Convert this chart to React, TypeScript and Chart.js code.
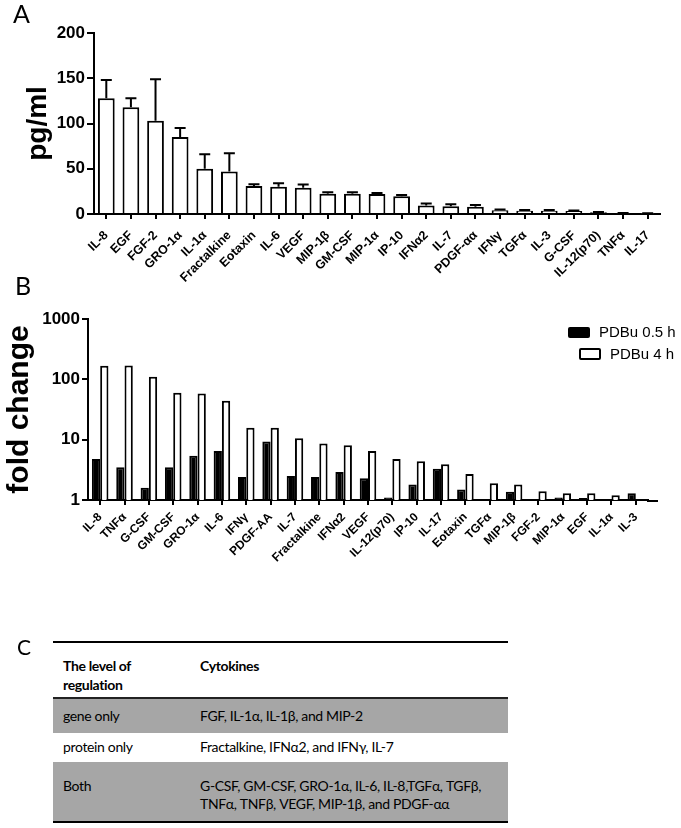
import React, { useEffect, useRef } from "react";
import { Chart, registerables } from "chart.js";
Chart.register(...registerables);

// ---------- Panel A data ----------
const catsA = ["IL-8", "EGF", "FGF-2", "GRO-1α", "IL-1α", "Fractalkine", "Eotaxin", "IL-6", "VEGF", "MIP-1β", "GM-CSF", "MIP-1α", "IP-10", "IFNα2", "IL-7", "PDGF-αα", "IFNγ", "TGFα", "IL-3", "G-CSF", "IL-12(p70)", "TNFα", "IL-17"];
const valuesA = [128, 118, 103, 85, 50, 47, 31, 30, 29, 22.5, 22.5, 22, 19.5, 9.5, 8.5, 8, 4.2, 3.7, 3.7, 3.2, 1.8, 0.8, 0.6];
const errA = [20, 10, 46, 10, 16, 20, 2, 4, 3.5, 1.5, 1.5, 1.2, 1.5, 2.2, 2.2, 2, 0.8, 0.6, 0.6, 0.8, 0.5, 0.3, 0.2];
const ticksA = [0, 50, 100, 150, 200];

// ---------- Panel B data ----------
const catsB = ["IL-8", "TNFα", "G-CSF", "GM-CSF", "GRO-1α", "IL-6", "IFNγ", "PDGF-AA", "IL-7", "Fractalkine", "IFNα2", "VEGF", "IL-12(p70)", "IP-10", "IL-17", "Eotaxin", "TGFα", "MIP-1β", "FGF-2", "MIP-1α", "EGF", "IL-1α", "IL-3"];
const pdbu05 = [4.8, 3.5, 1.6, 3.5, 5.4, 6.5, 2.4, 9.3, 2.5, 2.4, 2.9, 2.3, 1.1, 1.8, 3.3, 1.5, null, 1.37, null, 1.1, 1.08, null, 1.29];
const pdbu4 = [168, 170, 110, 60, 58, 44, 15.7, 15.7, 10.6, 8.6, 8.1, 6.5, 4.8, 4.4, 3.9, 2.7, 1.9, 1.8, 1.4, 1.29, 1.29, 1.2, null];
const ticksB = [1, 10, 100, 1000];
const seriesNamesB = ["PDBu 0.5 h", "PDBu 4 h"];

// ---------- Panel C data ----------
const tableHeader = ["The level of\nregulation", "Cytokines"];
const tableLevels = ["gene only", "protein only", "Both"];
const tableCytokines = [
  "FGF, IL-1α, IL-1β, and MIP-2",
  "Fractalkine, IFNα2, and IFNγ, IL-7",
  "G-CSF, GM-CSF, GRO-1α, IL-6, IL-8,TGFα, TGFβ,\nTNFα, TNFβ, VEGF, MIP-1β, and PDGF-αα",
];

const FONT = "'Liberation Sans', Arial, sans-serif";
const TFONT = "Lato, 'Noto Sans', sans-serif";

const errorBarPlugin = {
  id: "errorBars",
  afterDatasetsDraw(chart: any) {
    const meta = chart.getDatasetMeta(0);
    const ys = chart.scales.y;
    const ctx = chart.ctx;
    ctx.save();
    ctx.strokeStyle = "#000";
    ctx.lineWidth = 2;
    meta.data.forEach((bar: any, i: number) => {
      const y0 = ys.getPixelForValue(valuesA[i]);
      const y1 = ys.getPixelForValue(valuesA[i] + errA[i]);
      ctx.beginPath();
      ctx.moveTo(bar.x, y0);
      ctx.lineTo(bar.x, y1);
      ctx.moveTo(bar.x - 5.5, y1);
      ctx.lineTo(bar.x + 5.5, y1);
      ctx.stroke();
    });
    ctx.restore();
  },
};

const axisExtendPlugin = {
  id: "axisExtend",
  afterDraw(chart: any) {
    const { ctx, chartArea } = chart;
    ctx.save();
    ctx.strokeStyle = "#000";
    ctx.lineWidth = 2;
    ctx.beginPath();
    ctx.moveTo(chartArea.right - 1, chartArea.bottom + 1);
    ctx.lineTo(chartArea.right + 10, chartArea.bottom + 1);
    ctx.stroke();
    ctx.restore();
  },
};

function ChartA() {
  const ref = useRef<HTMLCanvasElement>(null);
  useEffect(() => {
    const chart = new Chart(ref.current as HTMLCanvasElement, {
      type: "bar",
      data: {
        labels: catsA,
        datasets: [
          {
            data: valuesA,
            backgroundColor: "#fff",
            borderColor: "#000",
            borderWidth: 2,
            barPercentage: 0.68,
            categoryPercentage: 1,
          },
        ],
      },
      options: {
        animation: false,
        responsive: false,
        devicePixelRatio: 1,
        layout: { padding: { top: 33, right: 21, bottom: 0, left: 0 } },
        plugins: { legend: { display: false }, tooltip: { enabled: false } },
        scales: {
          x: {
            grid: { display: true, drawOnChartArea: false, drawTicks: true, tickLength: 5, offset: false, color: "#000", lineWidth: 2 },
            border: { display: true, color: "#000", width: 2 },
            ticks: { autoSkip: false, maxRotation: 45, minRotation: 45, padding: 9, color: "#000", font: { family: FONT, weight: "bold", size: 12.5 } },
            afterFit(s: any) { s.height = 71; },
          },
          y: {
            min: 0,
            max: 200,
            afterBuildTicks(s: any) { s.ticks = ticksA.map((v) => ({ value: v })); },
            ticks: { padding: 2, color: "#000", font: { family: FONT, weight: "bold", size: 17 }, callback: (v: any) => String(v) },
            grid: { drawOnChartArea: false, drawTicks: true, tickLength: 7, color: "#000", lineWidth: 2 },
            border: { display: true, color: "#000", width: 2 },
            title: { display: true, text: "pg/ml", color: "#000", font: { family: FONT, weight: "bold", size: 28 }, padding: { top: 21, bottom: 0 } },
            afterFit(s: any) { s.width = 94; },
          },
        },
      },
      plugins: [errorBarPlugin],
    } as any);
    return () => chart.destroy();
  }, []);
  return <canvas ref={ref} width={681} height={285} style={{ position: "absolute", left: 0, top: 0, width: 681, height: 285 }} />;
}

function ChartB() {
  const ref = useRef<HTMLCanvasElement>(null);
  useEffect(() => {
    const chart = new Chart(ref.current as HTMLCanvasElement, {
      type: "bar",
      data: {
        labels: catsB,
        datasets: [
          { label: seriesNamesB[0], data: pdbu05, backgroundColor: "#000", borderColor: "#000", borderWidth: 2, barPercentage: 1, categoryPercentage: 0.68 },
          { label: seriesNamesB[1], data: pdbu4, backgroundColor: "#fff", borderColor: "#000", borderWidth: 2, barPercentage: 1, categoryPercentage: 0.68 },
        ],
      },
      options: {
        animation: false,
        responsive: false,
        devicePixelRatio: 1,
        layout: { padding: { top: 34, right: 33, bottom: 0, left: 0 } },
        plugins: { legend: { display: false }, tooltip: { enabled: false } },
        scales: {
          x: {
            grid: { display: true, drawOnChartArea: false, drawTicks: true, tickLength: 5, offset: false, color: "#000", lineWidth: 2 },
            border: { display: true, color: "#000", width: 2 },
            ticks: { autoSkip: false, maxRotation: 45, minRotation: 45, padding: 5, color: "#000", font: { family: FONT, weight: "bold", size: 12 } },
            afterFit(s: any) { s.height = 100; },
          },
          y: {
            type: "logarithmic",
            min: 1,
            max: 1000,
            afterBuildTicks(s: any) { s.ticks = ticksB.map((v) => ({ value: v })); },
            ticks: { padding: 2, color: "#000", font: { family: FONT, weight: "bold", size: 17 }, callback: (v: any) => String(v) },
            grid: { drawOnChartArea: false, drawTicks: true, tickLength: 6, color: "#000", lineWidth: 2 },
            border: { display: true, color: "#000", width: 2 },
            title: { display: true, text: "fold change", color: "#000", font: { family: FONT, weight: "bold", size: 30 }, padding: { top: 2, bottom: 0 } },
            afterFit(s: any) { s.width = 88; },
          },
        },
      },
      plugins: [axisExtendPlugin],
    } as any);
    return () => chart.destroy();
  }, []);
  return <canvas ref={ref} width={681} height={315} style={{ position: "absolute", left: 0, top: 285, width: 681, height: 315 }} />;
}

const abs = (o: any) => ({ position: "absolute" as const, ...o });
const cell = { fontFamily: TFONT, fontSize: 14, lineHeight: "18px", color: "#000", whiteSpace: "pre", letterSpacing: "-0.35px" };

export default function App() {
  const headLines = tableHeader[0].split("\n");
  return (
    <div style={abs({ left: 0, top: 0, width: 681, height: 828, background: "#fff", overflow: "hidden" })}>
      <ChartA />
      <ChartB />
      <div style={abs({ left: 13, top: 1, fontFamily: TFONT, fontSize: 25, lineHeight: 1, color: "#000" })}>A</div>
      <div style={abs({ left: 15, top: 273, fontFamily: TFONT, fontSize: 25, lineHeight: 1, color: "#000" })}>B</div>
      <div style={abs({ left: 17, top: 636, fontFamily: TFONT, fontSize: 21, lineHeight: 1, color: "#000" })}>C</div>

      <div style={abs({ left: 568, top: 327, width: 22, height: 11, background: "#000", borderRadius: 2 })} />
      <div style={abs({ left: 599, top: 323, fontFamily: FONT, fontSize: 15, lineHeight: "18px", color: "#000", whiteSpace: "nowrap" })}>{seriesNamesB[0]}</div>
      <div style={abs({ left: 579, top: 348, width: 18, height: 8, background: "#fff", border: "2px solid #000", borderRadius: 2 })} />
      <div style={abs({ left: 610, top: 345, fontFamily: FONT, fontSize: 15, lineHeight: "18px", color: "#000", whiteSpace: "nowrap" })}>{seriesNamesB[1]}</div>

      <div style={abs({ left: 53, top: 641, width: 455, height: 2, background: "#000" })} />
      <div style={abs({ ...cell, left: 63, top: 656, fontWeight: 700, lineHeight: "19px" })}>
        {headLines[0]}<br />{headLines[1]}
      </div>
      <div style={abs({ ...cell, left: 200, top: 656, fontWeight: 700, lineHeight: "19px" })}>{tableHeader[1]}</div>
      <div style={abs({ left: 53, top: 697, width: 455, height: 2, background: "#222" })} />

      <div style={abs({ left: 53, top: 699, width: 455, height: 34, background: "#a6a6a6" })} />
      <div style={abs({ ...cell, left: 63, top: 707 })}>{tableLevels[0]}</div>
      <div style={abs({ ...cell, left: 200, top: 707 })}>{tableCytokines[0]}</div>

      <div style={abs({ ...cell, left: 63, top: 738 })}>{tableLevels[1]}</div>
      <div style={abs({ ...cell, left: 200, top: 738 })}>{tableCytokines[1]}</div>

      <div style={abs({ left: 53, top: 762, width: 455, height: 59, background: "#a6a6a6" })} />
      <div style={abs({ ...cell, left: 63, top: 777 })}>{tableLevels[2]}</div>
      <div style={abs({ ...cell, left: 200, top: 777 })}>{tableCytokines[2]}</div>
      <div style={abs({ left: 53, top: 821, width: 455, height: 2, background: "#000" })} />
    </div>
  );
}
